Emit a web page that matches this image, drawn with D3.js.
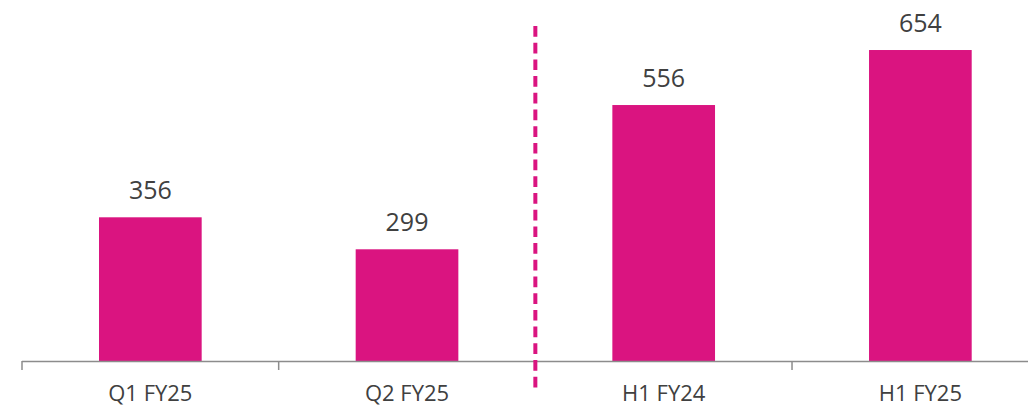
<!DOCTYPE html>
<html>
<head>
<meta charset="utf-8">
<script src="https://cdn.jsdelivr.net/npm/d3@7"></script>
<style>
  body { margin: 0; background: #fff; }
  svg text { font-family: "Open Sans", "Noto Sans", sans-serif; fill: #404040; }
</style>
</head>
<body>
<svg id="chart" width="1028" height="407"></svg>
<script>
// data
var categories = ["Q1 FY25", "Q2 FY25", "H1 FY24", "H1 FY25"];
var values = [356, 299, 556, 654];
var dividerAfter = 2; // dashed line sits before this category

var W = 1028, H = 407;
var baseY = 361;
var BAR = "#da1480";

var svg = d3.select("#chart");

// bands run past the right edge like the original slide
var x = d3.scaleBand()
  .domain(categories)
  .range([22, 1048.7])
  .paddingInner(0.6)
  .paddingOuter(0.3);

// value axis starts at 100, not zero
var y = d3.scaleLinear()
  .domain([100, 700])
  .range([baseY, 24.2]);

var step = x.step();
var bounds = d3.range(categories.length + 1).map(function(i) { return 22 + i * step; });

// bars
svg.selectAll("rect.bar")
  .data(values)
  .enter().append("rect")
  .attr("class", "bar")
  .attr("x", function(d, i) { return x(categories[i]); })
  .attr("width", x.bandwidth())
  .attr("y", function(d) { return y(d); })
  .attr("height", function(d) { return baseY - y(d); })
  .attr("fill", BAR);

// value labels
svg.selectAll("text.val")
  .data(values)
  .enter().append("text")
  .attr("class", "val")
  .attr("x", function(d, i) { return x(categories[i]) + x.bandwidth() / 2; })
  .attr("y", function(d) { return y(d) - 18; })
  .attr("text-anchor", "middle")
  .style("font-size", "25px")
  .text(function(d) { return d; });

// axis line + ticks
svg.append("line")
  .attr("x1", bounds[0]).attr("x2", bounds[bounds.length - 1])
  .attr("y1", baseY + 0.5).attr("y2", baseY + 0.5)
  .attr("stroke", "#8c8c8c").attr("stroke-width", 1.5);

svg.selectAll("line.tick")
  .data(bounds)
  .enter().append("line")
  .attr("class", "tick")
  .attr("x1", function(d) { return d; }).attr("x2", function(d) { return d; })
  .attr("y1", baseY).attr("y2", baseY + 9)
  .attr("stroke", "#8c8c8c").attr("stroke-width", 1.5);

// category labels
svg.selectAll("text.cat")
  .data(categories)
  .enter().append("text")
  .attr("class", "cat")
  .attr("x", function(d) { return x(d) + x.bandwidth() / 2; })
  .attr("y", 401)
  .attr("text-anchor", "middle")
  .style("font-size", "22px")
  .text(function(d) { return d; });

// dashed divider
svg.append("line")
  .attr("x1", bounds[dividerAfter]).attr("x2", bounds[dividerAfter])
  .attr("y1", 26).attr("y2", 388)
  .attr("stroke", BAR)
  .attr("stroke-width", 4)
  .attr("stroke-dasharray", "10.7,6");
</script>
</body>
</html>
